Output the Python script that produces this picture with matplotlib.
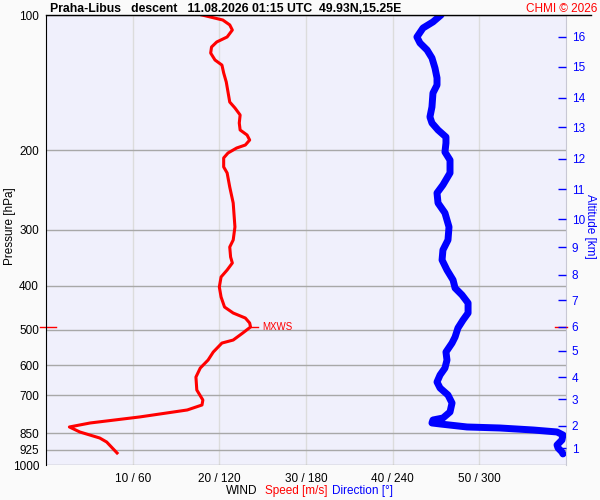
import matplotlib
matplotlib.use("Agg")
import matplotlib.pyplot as plt
from matplotlib.lines import Line2D
from matplotlib.ticker import NullLocator
import matplotlib.transforms as mtransforms

plt.rcParams['font.family'] = ['Liberation Sans', 'DejaVu Sans']

# wind speed profile (hPa, m/s)
pres_speed = [100.0, 102.6, 105.2, 108.0, 111.9, 114.8, 117.8, 121.5, 125.9, 129.2,
              134.5, 140.9, 148.3, 156.1, 160.9, 166.8, 173.8, 180.1, 184.8, 189.6,
              194.5, 197.5, 202.6, 207.8, 217.6, 224.4, 241.1, 261.7, 295.8, 316.2,
              327.8, 345.0, 355.7, 368.7, 382.1, 402.2, 423.3, 445.6, 459.5, 471.4,
              483.6, 493.6, 509.0, 527.6, 535.8, 561.0, 584.5, 608.9, 637.6, 681.3,
              717.1, 735.6, 754.6, 782.1, 806.5, 823.2, 844.5, 871.0, 889.0, 940.4]
speed = [18.0, 20.4, 21.2, 21.5, 20.9, 19.7, 19.1, 19.0, 19.5, 20.3,
         20.5, 20.8, 21.0, 21.2, 21.8, 22.4, 22.3, 22.4, 23.2, 23.5,
         23.0, 22.0, 21.0, 20.5, 20.5, 20.9, 21.2, 21.6, 21.8, 21.6,
         21.2, 21.3, 21.5, 20.9, 20.2, 20.0, 20.2, 20.6, 21.6, 23.0,
         23.5, 23.6, 22.7, 21.6, 20.3, 19.3, 18.7, 17.8, 17.3, 17.4,
         18.1, 18.0, 16.3, 10.8, 5.1, 2.7, 3.9, 6.2, 7.0, 8.2]

# wind direction profile (hPa, deg)
pres_dir = [100.0, 103.6, 106.9, 111.9, 115.4, 119.6, 124.6, 131.2, 138.0, 143.1,
            149.1, 160.1, 168.5, 173.8, 180.1, 186.7, 192.5, 201.6, 210.1, 224.4,
            238.6, 248.6, 261.7, 275.4, 295.8, 316.2, 332.8, 350.3, 368.7, 388.0,
            404.3, 419.0, 436.5, 459.5, 476.3, 496.1, 519.5, 535.8, 561.0, 584.5,
            608.9, 631.0, 654.0, 674.4, 699.0, 728.2, 762.4, 786.3, 794.3, 806.5,
            810.6, 823.2, 827.5, 836.0, 844.5, 857.7, 879.9, 902.7, 916.6, 935.6, 945.0]
direction = [273.5, 267.9, 261.0, 256.8, 258.9, 263.8, 267.2, 269.3, 270.7, 270.7,
             267.9, 267.2, 265.8, 267.2, 271.4, 276.9, 276.9, 276.2, 279.7, 279.7,
             274.8, 270.7, 271.4, 276.2, 279.0, 278.3, 274.8, 274.2, 277.6, 281.8,
             283.2, 288.0, 292.2, 292.2, 288.7, 285.2, 283.2, 281.1, 276.9, 277.6,
             276.2, 272.8, 270.7, 272.8, 278.3, 281.1, 279.7, 274.8, 267.9, 267.2,
             272.8, 291.5, 314.3, 337.2, 353.8, 357.9, 357.2, 353.8, 354.5, 357.2, 357.9]

p_ticks = [100, 200, 300, 400, 500, 600, 700, 850, 925, 1000]
x_ticks = [10, 20, 30, 40, 50]
x_labels = ['10 / 60', '20 / 120', '30 / 180', '40 / 240', '50 / 300']
alt_km = list(range(1, 17))
alt_pres = [918.8, 818.8, 714.1, 639.0, 556.9, 493.4, 430.0, 377.7,
            328.1, 284.6, 243.9, 208.8, 177.8, 152.6, 130.3, 111.7]

BLUE = '#0000ff'
RED = '#ff0000'

fig = plt.figure(figsize=(6, 5), dpi=100, facecolor='#fafafa')
ax = fig.add_axes([46 / 600, 35 / 500, 520 / 600, 450 / 500])
ax.set_facecolor('#f0f0fc')

ax.set_yscale('log')
ax.set_ylim(1000, 100)
ax.set_yticks(p_ticks)
ax.set_yticklabels([str(p) for p in p_ticks])
ax.yaxis.set_minor_locator(NullLocator())
ax.set_xlim(0, 60)
ax.set_xticks(x_ticks)
ax.set_xticklabels(x_labels)
ax.tick_params(axis='both', length=0, labelsize=8.5)
ax.tick_params(axis='y', pad=5)
ax.tick_params(axis='x', pad=6)
ax.grid(axis='y', color='#a8a8a8', lw=1)
ax.grid(axis='x', color='#dcdcdc', lw=1)
ax.set_axisbelow(True)
ax.set_ylabel('Pressure [hPa]', fontsize=8.5, va='center')
ax.yaxis.set_label_coords(-0.069, 0.53)

ax.spines['left'].set_color('black')
ax.spines['top'].set_visible(False)
ax.spines['bottom'].set_visible(False)
ax.spines['right'].set_color('#c8c8d4')

# speed
ax.plot(speed, pres_speed, color=RED, lw=2.2, zorder=3)

# max wind marker
i_max = speed.index(max(speed))
v_max, p_max = speed[i_max], pres_speed[i_max]
ax.plot([v_max, v_max + 0.9], [p_max, p_max], color=RED, lw=1, zorder=3)
ax.text(v_max + 1.4, p_max, 'MXWS', color=RED, fontsize=7, va='center', zorder=3)
trans = mtransforms.blended_transform_factory(ax.transAxes, ax.transData)
ax.plot([-0.0115, 0.019], [p_max, p_max], color=RED, lw=1, transform=trans, clip_on=False)
ax.plot([0.979, 1.002], [p_max, p_max], color=RED, lw=1, transform=trans, clip_on=False, zorder=5)

# direction
axd = ax.twiny()
axd.set_xlim(0, 360)
axd.plot(direction, pres_dir, color=BLUE, lw=5, solid_capstyle='round', solid_joinstyle='round')
axd.set_xticks([])
for s in axd.spines.values():
    s.set_visible(False)

# altitude axis
axr = ax.twinx()
axr.set_yscale('log')
axr.set_ylim(1000, 100)
axr.set_yticks(alt_pres)
axr.set_yticklabels([str(k) for k in alt_km])
axr.yaxis.set_minor_locator(NullLocator())
axr.tick_params(axis='y', direction='in', length=6, width=1, color=BLUE,
                labelcolor=BLUE, labelsize=8.5, pad=4)
for s in axr.spines.values():
    s.set_visible(False)
axr.set_ylabel('Altitude [km]', color=BLUE, fontsize=8.5, rotation=270, va='center')
axr.yaxis.set_label_coords(1.047, 0.53)

# top line and header
fig.add_artist(Line2D([46 / 600, 591 / 600], [1 - 15 / 500, 1 - 15 / 500], color='black', lw=1))
fig.text(50 / 600, 1 - 8.5 / 500, 'Praha-Libus   descent   11.08.2026 01:15 UTC  49.93N,15.25E',
         fontsize=8.8, fontweight='bold', va='center', ha='left')
fig.text(597 / 600, 1 - 8.5 / 500, 'CHMI \u00a9 2026', color=RED, fontsize=8.5, va='center', ha='right')

# axis caption
yc = 1 - 491 / 500
fig.text(226 / 600, yc, 'WIND', fontsize=8.5, va='center')
fig.text(265 / 600, yc, 'Speed [m/s]', color=RED, fontsize=8.5, va='center')
fig.text(332 / 600, yc, 'Direction [\u00b0]', color=BLUE, fontsize=8.5, va='center')

fig.savefig('out.png', dpi=100, facecolor=fig.get_facecolor())
